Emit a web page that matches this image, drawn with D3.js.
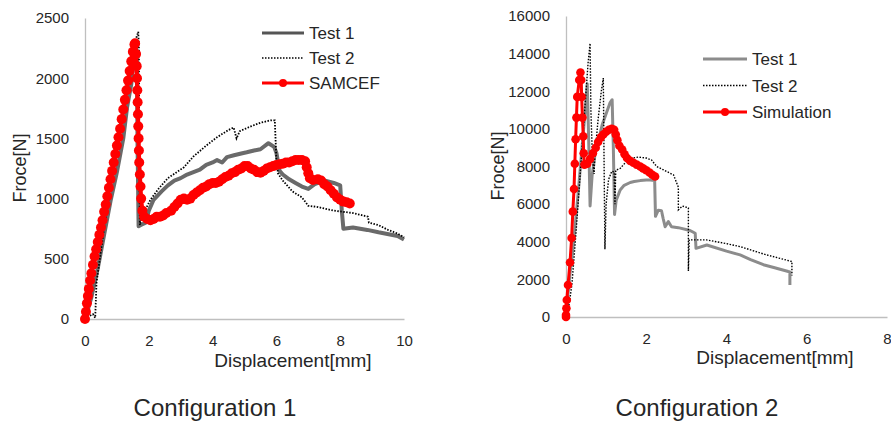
<!DOCTYPE html>
<html>
<head>
<meta charset="utf-8">
<script src="https://cdn.jsdelivr.net/npm/d3@7"></script>
<style>
  body { margin: 0; background: #fff; }
  text { font-family: "Liberation Sans", Arial, sans-serif; fill: #262626; }
</style>
</head>
<body>
<svg id="chart" width="891" height="423"></svg>
<script>
// ---- Configuration 1 data (displacement mm, force N)
var cfg1Test1 = [[0,0],[0.2,180],[0.4,420],[0.6,700],[0.8,980],[1.0,1220],[1.2,1500],[1.32,1760],[1.45,1950],[1.52,2150],[1.57,2310],[1.62,2200],[1.65,1400],[1.68,770],[1.75,780],[1.9,800],[2.0,900],[2.15,990],[2.4,1060],[2.6,1110],[2.8,1150],[3.0,1170],[3.2,1200],[3.4,1220],[3.6,1240],[3.8,1280],[4.0,1300],[4.14,1320],[4.3,1300],[4.45,1345],[4.67,1360],[4.9,1375],[5.07,1385],[5.3,1400],[5.5,1410],[5.75,1460],[5.93,1430],[6.0,1380],[6.1,1230],[6.2,1200],[6.4,1160],[6.6,1130],[6.8,1100],[7.0,1080],[7.2,1120],[7.5,1150],[7.8,1130],[8.0,1110],[8.05,900],[8.1,750],[8.4,760],[8.85,740],[9.2,720],[9.6,700],[9.8,690],[10,660]];
var cfg1Test2 = [[0,0],[0.1,20],[0.25,40],[0.32,10],[0.36,300],[0.45,470],[0.6,760],[0.8,1080],[1.0,1400],[1.2,1720],[1.35,1980],[1.5,2200],[1.6,2330],[1.67,2385],[1.69,2250],[1.7,1500],[1.72,780],[1.8,860],[2.05,990],[2.3,1080],[2.6,1170],[3.1,1260],[3.4,1350],[3.8,1440],[4.14,1510],[4.5,1570],[4.66,1590],[4.75,1500],[4.85,1560],[5.2,1600],[5.5,1630],[5.82,1650],[5.95,1650],[6.0,1320],[6.05,1210],[6.2,1150],[6.5,1060],[6.8,1010],[7.0,940],[7.3,930],[7.8,900],[8.4,880],[8.87,850],[8.9,800],[9.2,780],[9.5,740],[9.8,710],[10,680]];
var cfg1Samcef = [[0,0],[0.03,60],[0.06,130],[0.09,190],[0.12,250],[0.16,320],[0.2,380],[0.25,450],[0.3,520],[0.35,580],[0.4,640],[0.45,700],[0.5,760],[0.55,820],[0.6,890],[0.65,950],[0.7,1020],[0.75,1090],[0.8,1160],[0.85,1230],[0.9,1300],[0.95,1370],[1.0,1440],[1.05,1510],[1.1,1580],[1.15,1660],[1.2,1740],[1.25,1820],[1.3,1900],[1.35,1980],[1.4,2060],[1.45,2140],[1.5,2220],[1.55,2280],[1.57,2290],[1.6,2200],[1.62,2100],[1.63,2000],[1.64,1900],[1.65,1800],[1.66,1700],[1.67,1600],[1.68,1500],[1.69,1400],[1.7,1300],[1.72,1200],[1.74,1100],[1.76,1000],[1.8,900],[1.85,850],[1.95,830],[2.05,820],[2.15,830],[2.25,850],[2.35,850],[2.45,860],[2.55,880],[2.7,900],[2.8,930],[2.9,960],[3.0,990],[3.1,1000],[3.2,990],[3.3,1000],[3.4,1030],[3.5,1050],[3.6,1070],[3.7,1090],[3.8,1100],[3.9,1120],[4.0,1130],[4.1,1130],[4.2,1140],[4.3,1160],[4.4,1180],[4.5,1190],[4.6,1210],[4.7,1220],[4.8,1240],[4.9,1250],[5.0,1270],[5.1,1270],[5.2,1250],[5.3,1240],[5.4,1220],[5.5,1215],[5.6,1230],[5.7,1250],[5.8,1260],[5.9,1270],[6.0,1280],[6.1,1285],[6.2,1290],[6.3,1300],[6.4,1300],[6.5,1310],[6.6,1320],[6.7,1320],[6.8,1320],[6.9,1310],[6.95,1260],[7.0,1210],[7.05,1170],[7.15,1155],[7.3,1160],[7.4,1150],[7.5,1120],[7.6,1100],[7.7,1070],[7.8,1040],[7.9,1010],[8.0,990],[8.1,975],[8.2,970],[8.3,960]];
var cfg1XTicks = [0, 2, 4, 6, 8, 10];
var cfg1YTicks = [0, 500, 1000, 1500, 2000, 2500];
var cfg1Names = ["Test 1", "Test 2", "SAMCEF"];

// ---- Configuration 2 data
var cfg2Test1 = [[0,0],[0.05,1200],[0.1,2300],[0.15,3200],[0.2,4200],[0.3,6500],[0.4,9000],[0.48,11000],[0.53,12400],[0.57,9000],[0.6,5900],[0.65,7500],[0.72,8600],[0.8,9300],[0.9,10200],[1.0,10800],[1.1,11400],[1.15,11550],[1.18,9000],[1.21,5450],[1.25,6200],[1.35,6750],[1.45,7000],[1.6,7150],[1.7,7200],[1.85,7250],[2.0,7280],[2.1,7280],[2.21,7250],[2.23,5350],[2.3,5680],[2.38,5650],[2.42,5250],[2.47,4800],[2.55,5070],[2.63,4800],[2.8,4750],[3.09,4600],[3.22,4450],[3.24,3650],[3.51,3830],[4.0,3500],[4.34,3300],[4.6,3050],[4.92,2780],[5.2,2620],[5.54,2420],[5.58,2400],[5.58,1700]];
var cfg2Test2 = [[0,0],[0.05,300],[0.1,1000],[0.15,1800],[0.25,4500],[0.35,7500],[0.45,10500],[0.55,13500],[0.6,14550],[0.62,11000],[0.66,8400],[0.7,7600],[0.72,8600],[0.8,10500],[0.88,12000],[0.93,12700],[0.95,8000],[0.97,3600],[1.0,6000],[1.06,7300],[1.14,7750],[1.2,7700],[1.22,6000],[1.24,7800],[1.35,7900],[1.5,8250],[1.65,8450],[1.8,8500],[2.0,8450],[2.13,8350],[2.26,8000],[2.45,7800],[2.68,7550],[2.8,6900],[2.8,5700],[2.9,5900],[3.05,5800],[3.05,2450],[3.07,4100],[3.5,4100],[4.0,3900],[4.34,3740],[5.0,3300],[5.63,2950],[5.63,2200]];
var cfg2Sim = [[0,0],[0,100],[0.01,460],[0.02,900],[0.05,1700],[0.1,2900],[0.14,4200],[0.17,5600],[0.2,6800],[0.22,8150],[0.24,9450],[0.26,10600],[0.28,11700],[0.33,12600],[0.36,13000],[0.38,12600],[0.39,11700],[0.41,10600],[0.43,9600],[0.44,8700],[0.46,8100],[0.53,8150],[0.6,8400],[0.67,8700],[0.74,9000],[0.8,9300],[0.87,9550],[0.93,9700],[1.0,9850],[1.07,9950],[1.14,10000],[1.2,9950],[1.24,9700],[1.28,9400],[1.33,9100],[1.4,8900],[1.46,8650],[1.52,8450],[1.6,8300],[1.68,8200],[1.76,8100],[1.85,8000],[1.92,7900],[2.0,7800],[2.08,7680],[2.15,7560],[2.22,7470]];
var cfg2XTicks = [0, 2, 4, 6, 8];
var cfg2YTicks = [0, 2000, 4000, 6000, 8000, 10000, 12000, 14000, 16000];
var cfg2Names = ["Test 1", "Test 2", "Simulation"];

var svg = d3.select("#chart");

function drawPanel(o) {
  var x = d3.scaleLinear().domain(o.xDomain).range(o.xRange);
  var y = d3.scaleLinear().domain(o.yDomain).range(o.yRange);
  var g = svg.append("g");

  // axes (no tick marks, light grey domain line)
  var ax = g.append("g")
    .attr("transform", "translate(0," + o.yRange[0] + ")")
    .call(d3.axisBottom(x).tickValues(o.xTicks).tickFormat(d3.format("d")).tickSize(0).tickPadding(16));
  var ay = g.append("g")
    .attr("transform", "translate(" + o.xRange[0] + ",0)")
    .call(d3.axisLeft(y).tickValues(o.yTicks).tickFormat(d3.format("d")).tickSize(0).tickPadding(16));
  [ax, ay].forEach(function(a) {
    a.select(".domain").attr("stroke", "#bfbfbf").attr("stroke-width", 1.3);
    a.selectAll("text").attr("font-size", 15).attr("font-family", "Liberation Sans, Arial, sans-serif").attr("fill", "#262626");
  });

  var line = d3.line().x(function(d) { return x(d[0]); }).y(function(d) { return y(d[1]); });

  g.append("path").datum(o.test1).attr("d", line)
    .attr("fill", "none").attr("stroke", o.t1Color).attr("stroke-width", o.t1Width)
    .attr("stroke-linejoin", "round");
  g.append("path").datum(o.test2).attr("d", line)
    .attr("fill", "none").attr("stroke", "#000").attr("stroke-width", o.t2Width)
    .attr("stroke-dasharray", "1.5,1.5");
  g.append("path").datum(o.sim).attr("d", line)
    .attr("fill", "none").attr("stroke", "#ff0000").attr("stroke-width", o.simWidth)
    .attr("stroke-linejoin", "round");
  g.selectAll(".dot").data(o.sim).enter().append("circle")
    .attr("cx", function(d) { return x(d[0]); })
    .attr("cy", function(d) { return y(d[1]); })
    .attr("r", o.dotR).attr("fill", "#ff0000");

  // axis titles
  g.append("text").attr("x", o.xTitle[0]).attr("y", o.xTitle[1])
    .attr("text-anchor", "middle").attr("font-size", 19).text("Displacement[mm]");
  g.append("text").attr("transform", "translate(" + o.yTitle[0] + "," + o.yTitle[1] + ") rotate(-90)")
    .attr("text-anchor", "middle").attr("dy", "0.35em").attr("font-size", 18).text("Froce[N]");

  // legend
  var lg = g.append("g");
  o.names.forEach(function(n, i) {
    var ly = o.legend[1] + i * o.legend[3];
    var l = lg.append("line").attr("x1", o.legend[0]).attr("x2", o.legend[0] + o.legend[2])
      .attr("y1", ly).attr("y2", ly);
    if (i == 0) l.attr("stroke", o.t1Legend).attr("stroke-width", 3);
    if (i == 1) l.attr("stroke", "#000").attr("stroke-width", 1.4).attr("stroke-dasharray", "1.5,1.5");
    if (i == 2) {
      l.attr("stroke", "#ff0000").attr("stroke-width", 3);
      lg.append("circle").attr("cx", o.legend[0] + o.legend[2] / 2).attr("cy", ly).attr("r", 4).attr("fill", "#ff0000");
    }
    lg.append("text").attr("x", o.legend[0] + o.legend[2] + 5).attr("y", ly).attr("dy", "0.36em")
      .attr("font-size", 17).text(n);
  });

  // caption
  g.append("text").attr("x", o.caption[0]).attr("y", o.caption[1])
    .attr("text-anchor", "middle").attr("font-size", 24).text(o.captionText);
}

drawPanel({
  xDomain: [0, 10], xRange: [85, 404], yDomain: [0, 2500], yRange: [319, 18],
  xTicks: cfg1XTicks, yTicks: cfg1YTicks,
  test1: cfg1Test1, test2: cfg1Test2, sim: cfg1Samcef,
  t1Color: "#6a6a6a", t1Width: 4, t1Legend: "#555", t2Width: 1.8, simWidth: 4, dotR: 5,
  names: cfg1Names, legend: [262, 33, 42, 25],
  xTitle: [293, 367], yTitle: [20, 168],
  caption: [215, 416], captionText: "Configuration 1"
});

drawPanel({
  xDomain: [0, 8], xRange: [566, 887], yDomain: [0, 16000], yRange: [317, 16],
  xTicks: cfg2XTicks, yTicks: cfg2YTicks,
  test1: cfg2Test1, test2: cfg2Test2, sim: cfg2Sim,
  t1Color: "#8c8c8c", t1Width: 3, t1Legend: "#8c8c8c", t2Width: 1.4, simWidth: 3, dotR: 4.3,
  names: cfg2Names, legend: [703, 59, 44, 26.5],
  xTitle: [775, 364], yTitle: [498, 166],
  caption: [697, 416], captionText: "Configuration 2"
});
</script>
</body>
</html>
